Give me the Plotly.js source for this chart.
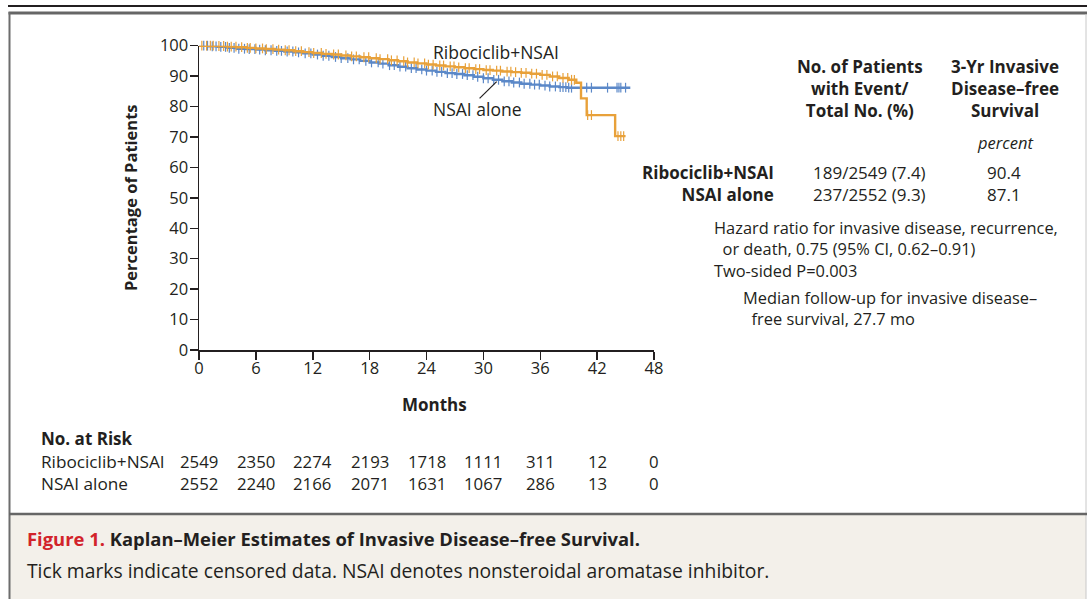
<!DOCTYPE html>
<html>
<head>
<meta charset="utf-8">
<script src="https://cdn.plot.ly/plotly-3.0.1.min.js"></script>
<style>
html,body{margin:0;padding:0;background:#fff;}
#chart{width:1087px;height:599px;}
</style>
</head>
<body>
<div id="chart"></div>
<script>
// ---------- data ----------
const armNames = ['Ribociclib+NSAI', 'NSAI alone'];
const monthTicks = [0, 6, 12, 18, 24, 30, 36, 42, 48];
const pctTicks = [0, 10, 20, 30, 40, 50, 60, 70, 80, 90, 100];

// Kaplan-Meier step estimates (months, percent)
const ribTime = [0, 1, 2, 3, 4, 5, 6, 7, 8, 9, 10, 11, 12, 13, 14, 15, 16, 17, 18, 19, 20, 21, 22, 23, 24, 25, 26, 27, 28, 29, 30, 31, 32, 33, 34, 35, 36, 37, 38, 39, 39.8, 40.3, 40.9, 43.9, 45.0];
const ribSurv = [100, 100, 99.9, 99.7, 99.5, 99.3, 99.1, 98.9, 98.7, 98.5, 98.2, 97.9, 97.6, 97.3, 97.1, 96.8, 96.5, 96.2, 95.9, 95.6, 95.2, 94.9, 94.5, 94.2, 93.8, 93.5, 93.2, 92.9, 92.6, 92.3, 92.0, 91.8, 91.5, 91.3, 91.1, 90.8, 90.4, 89.9, 89.4, 88.8, 87.8, 82.7, 77.2, 70.3, 70.3];
const nsaiTime = [0, 1, 2, 3, 4, 5, 6, 7, 8, 9, 10, 11, 12, 13, 14, 15, 16, 17, 18, 19, 20, 21, 22, 23, 24, 25, 26, 27, 28, 29, 30, 31, 32, 33, 34, 35, 36, 37, 38, 38.8, 45.5];
const nsaiSurv = [100, 99.8, 99.6, 99.3, 99.0, 98.9, 98.7, 98.5, 98.3, 98.1, 97.8, 97.5, 97.1, 96.7, 96.3, 95.9, 95.5, 95.0, 94.5, 94.1, 93.6, 93.1, 92.6, 92.2, 91.8, 91.4, 91.0, 90.7, 90.3, 89.8, 89.3, 88.8, 88.3, 87.9, 87.5, 87.2, 86.9, 86.6, 86.4, 86.2, 86.2];

// censoring times (months)
const ribCensor = [0.3, 0.8, 1.2, 1.5, 2.1, 2.6, 3.0, 3.4, 3.9, 4.5, 5.1, 5.4, 6.0, 6.7, 7.1, 7.8, 8.4, 9.1, 9.5, 10.2, 10.8, 11.6, 12.1, 12.9, 13.4, 14.2, 14.7, 15.5, 16.1, 16.6, 17.4, 17.9, 18.7, 19.1, 19.9, 20.3, 20.9, 21.6, 22.0, 22.7, 23.1, 23.8, 24.2, 24.7, 25.4, 25.8, 26.5, 26.9, 27.4, 28.1, 28.5, 29.2, 29.6, 30.3, 30.7, 31.4, 31.8, 32.5, 32.9, 33.4, 34.0, 34.5, 35.1, 35.6, 36.2, 36.7, 37.3, 37.8, 38.4, 38.9, 39.3, 39.6, 41.0, 41.4, 44.2, 44.5, 44.8];
const nsaiCensor = [0.5, 0.9, 1.4, 1.8, 2.3, 2.8, 3.2, 3.7, 4.2, 4.8, 5.3, 5.9, 6.4, 7.0, 7.6, 8.2, 8.7, 9.3, 9.9, 10.5, 11.2, 11.8, 12.5, 13.1, 13.7, 14.4, 15.0, 15.7, 16.3, 16.9, 17.6, 18.2, 18.9, 19.4, 20.1, 20.6, 21.2, 21.8, 22.4, 22.9, 23.5, 24.0, 24.6, 25.1, 25.6, 26.2, 26.7, 27.2, 27.8, 28.3, 28.9, 29.4, 30.0, 30.5, 31.1, 31.6, 32.2, 32.7, 33.2, 33.8, 34.3, 34.9, 35.4, 35.9, 36.5, 37.0, 37.6, 38.1, 38.4, 38.7, 39.0, 39.3, 40.9, 41.4, 43.1, 44.1, 44.3, 44.5, 45.0];

// number at risk
const atRiskRib = [2549, 2350, 2274, 2193, 1718, 1111, 311, 12, 0];
const atRiskNsai = [2552, 2240, 2166, 2071, 1631, 1067, 286, 13, 0];

// summary table
const eventsText = ['189/2549 (7.4)', '237/2552 (9.3)'];
const survival3yr = ['90.4', '87.1'];

// ---------- styling ----------
const W = 1087, H = 599;
const ORANGE = '#e8a13a', BLUE = '#5b88c8', INK = '#231f20';
const FONT = 'Open Sans, sans-serif';
const px = x => x / W;
const py = y => 1 - y / H;
const NB = '&nbsp;';

function stepAt(T, S, t) {
  let v = S[0];
  for (let i = 0; i < T.length; i++) { if (T[i] <= t) v = S[i]; }
  return v;
}

function curve(T, S, color, name) {
  return {
    x: T, y: S, type: 'scatter', mode: 'lines', name: name,
    line: {color: color, width: 2.4, shape: 'hv'},
    hoverinfo: 'skip', cliponaxis: false, showlegend: false
  };
}
function censor(C, T, S, color, name) {
  return {
    x: C, y: C.map(t => stepAt(T, S, t)), type: 'scatter', mode: 'markers', name: name,
    marker: {symbol: 'line-ns-open', size: 7, color: color, line: {color: color, width: 1.2}},
    hoverinfo: 'skip', cliponaxis: false, showlegend: false
  };
}

const traces = [
  curve(nsaiTime, nsaiSurv, BLUE, armNames[1]),
  censor(nsaiCensor, nsaiTime, nsaiSurv, BLUE, armNames[1]),
  curve(ribTime, ribSurv, ORANGE, armNames[0]),
  censor(ribCensor, ribTime, ribSurv, ORANGE, armNames[0])
];

const ann = [];
function f(size) { return {family: FONT, size: size, color: INK}; }
function txt(text, x, y, opts) {
  ann.push(Object.assign({
    text: text, x: px(x), y: py(y), xref: 'paper', yref: 'paper',
    xanchor: 'left', yanchor: 'middle', showarrow: false, borderpad: 0,
    align: 'left', font: f(16.7)
  }, opts || {}));
}

// curve labels
txt(armNames[0], 432, 52, {font: f(17.5)});
txt(armNames[1], 432, 109, {font: f(17.5)});

// axis titles
txt('<b>Months</b>', 434, 404, {xanchor: 'center', font: f(17)});
txt('<b>Percentage of Patients</b>', 130, 198, {xanchor: 'center', textangle: -90, font: f(16.5)});

// summary table headers
txt('<b>No. of Patients<br>with Event/<br>Total No. (%)</b>', 860, 89, {xanchor: 'center', align: 'center', font: f(17)});
txt('<b>3-Yr Invasive<br>Disease–free<br>Survival</b>', 1005, 89, {xanchor: 'center', align: 'center', font: f(17)});
txt('<i>percent</i>', 1005, 143, {xanchor: 'center', font: f(16.5)});
txt(armNames.map(n => '<b>' + n + '</b>').join('<br>'), 775, 183, {xanchor: 'right', align: 'right', font: f(17)});
txt(eventsText.join('<br>'), 869, 183, {xanchor: 'center', align: 'center', font: f(17)});
txt(survival3yr.join('<br>'), 1004, 183, {xanchor: 'center', align: 'center', font: f(17)});

// hazard ratio etc.
txt('Hazard ratio for invasive disease, recurrence,<br>' + NB + NB + 'or death, 0.75 (95% CI, 0.62–0.91)<br>Two-sided P=0.003',
    713, 248.5, {font: f(16.4)});
txt('Median follow-up for invasive disease–<br>' + NB + NB + 'free survival, 27.7 mo', 742, 308, {font: f(16.4)});

// number at risk
txt('<b>No. at Risk</b>', 40, 438, {font: f(17)});
txt(armNames.join('<br>'), 40, 472.5, {font: f(17.2)});
monthTicks.forEach((m, i) => {
  ann.push({
    text: atRiskRib[i] + '<br>' + atRiskNsai[i], x: m, y: py(472.5), xref: 'x', yref: 'paper',
    xanchor: 'center', yanchor: 'middle', align: 'center', showarrow: false, borderpad: 0,
    font: f(16.8)
  });
});

// caption
txt('<span style="color:#d2232a">Figure 1.</span> Kaplan–Meier Estimates of Invasive Disease–free Survival.', 26, 538,
    {font: {family: FONT, size: 18.4, color: INK, weight: 'bold'}});
txt('Tick marks indicate censored data. NSAI denotes nonsteroidal aromatase inhibitor.', 26, 570, {font: f(19.3)});

const shapes = [
  {type: 'rect', xref: 'paper', yref: 'paper', x0: px(10), x1: px(1086), y0: py(515), y1: py(599),
   fillcolor: '#f3f0ea', line: {width: 0}, layer: 'below'},
  {type: 'line', xref: 'paper', yref: 'paper', x0: px(8), x1: px(1087), y0: py(6), y1: py(6), line: {color: INK, width: 2}},
  {type: 'line', xref: 'paper', yref: 'paper', x0: px(8.5), x1: px(1087), y0: py(13), y1: py(13), line: {color: '#666666', width: 3}},
  {type: 'line', xref: 'paper', yref: 'paper', x0: px(9.5), x1: px(9.5), y0: py(12), y1: py(599), line: {color: '#6d6d6d', width: 2}},
  {type: 'line', xref: 'paper', yref: 'paper', x0: px(1086), x1: px(1086), y0: py(14), y1: py(599), line: {color: '#c8c8c8', width: 1}},
  {type: 'line', xref: 'paper', yref: 'paper', x0: px(9), x1: px(1087), y0: py(514), y1: py(514), line: {color: '#666666', width: 2.5}},
  // leader line for "NSAI alone"
  {type: 'line', xref: 'x', yref: 'y', x0: 29.6, y0: 82.7, x1: 31.4, y1: 88.2, line: {color: INK, width: 1.2}}
];

const axisCommon = {
  showgrid: false, zeroline: false, showline: true, linecolor: INK, linewidth: 1.5,
  ticks: 'outside', ticklen: 8, tickwidth: 1.5, tickcolor: INK,
  tickfont: f(16.5), fixedrange: true
};

const layout = {
  width: W, height: H, margin: {l: 0, r: 0, t: 0, b: 0},
  paper_bgcolor: '#ffffff', plot_bgcolor: 'rgba(0,0,0,0)',
  showlegend: false,
  xaxis: Object.assign({}, axisCommon, {
    domain: [px(199), px(654)], range: [0, 48], tickvals: monthTicks, ticktext: monthTicks.map(String),
    anchor: 'y', ticklabelstandoff: -5
  }),
  yaxis: Object.assign({}, axisCommon, {
    domain: [py(350), py(45.7)], range: [0, 100], tickvals: pctTicks, ticktext: pctTicks.map(String),
    anchor: 'x', ticklabelstandoff: -2
  }),
  shapes: shapes,
  annotations: ann
};

Plotly.newPlot('chart', traces, layout, {staticPlot: true, displayModeBar: false});
</script>
</body>
</html>
